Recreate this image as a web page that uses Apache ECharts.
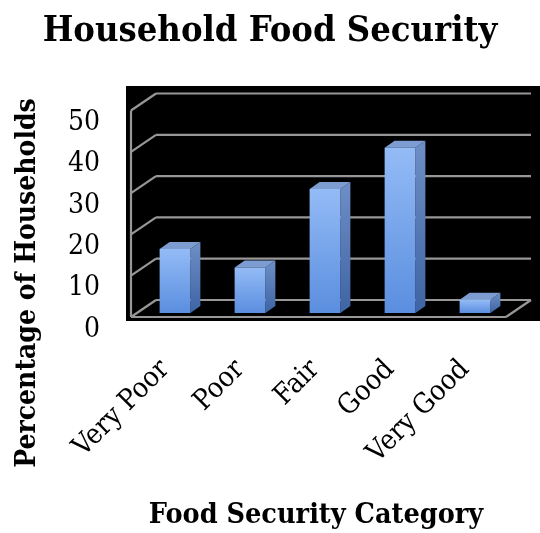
<!DOCTYPE html>
<html>
<head>
<meta charset="utf-8">
<style>
  html, body { margin: 0; padding: 0; background: #ffffff; }
  #chart { width: 540px; height: 533px; }
</style>
<script src="https://cdn.jsdelivr.net/npm/echarts@6/dist/echarts.min.js"></script>
</head>
<body>
<div id="chart"></div>
<script>
// Household food security survey results
const categories = ['Very Poor', 'Poor', 'Fair', 'Good', 'Very Good'];
const percentages = [15.5, 11, 30, 40, 3.2];
const yTicks = [0, 10, 20, 30, 40, 50];

const FONT = '"DejaVu Serif Condensed", "DejaVu Serif", serif';

// depth of the 3D box (front plane of the bars -> front/back of the floor)
const FRONT = [-6.5, 4];
const BACK = [18.5, -13];
const BAR_DEPTH = [10, -7];
const GRID_COLOR = '#979797';

const chart = echarts.init(document.getElementById('chart'), null, { renderer: 'canvas' });

function renderFrame(params, api) {
  const cs = params.coordSys;
  const v = api.value(0);
  const y = api.coord([0, v])[1];
  const left = cs.x, right = cs.x + cs.width;
  const children = [];
  const line = (x1, y1, x2, y2) => ({
    type: 'line',
    shape: { x1, y1, x2, y2 },
    style: { stroke: GRID_COLOR, lineWidth: 2.2 }
  });
  // back wall line
  children.push(line(left + BACK[0], y + BACK[1], right + BACK[0], y + BACK[1]));
  // side wall diagonal
  children.push(line(left + FRONT[0], y + FRONT[1], left + BACK[0], y + BACK[1]));
  if (params.dataIndex === 0) {
    const top = api.coord([0, yTicks[yTicks.length - 1]])[1];
    // front edge of the side wall
    children.push(line(left + FRONT[0], y + FRONT[1], left + FRONT[0], top + FRONT[1]));
    // floor front edge and right edge
    children.push(line(left + FRONT[0], y + FRONT[1], right + FRONT[0], y + FRONT[1]));
    children.push(line(right + FRONT[0], y + FRONT[1], right + BACK[0], y + BACK[1]));
  }
  return { type: 'group', children };
}

function renderBar(params, api) {
  const idx = api.value(0);
  const val = api.value(1);
  const top = api.coord([idx, val]);
  const base = api.coord([idx, 0]);
  const band = api.size([1, 0])[0];
  const w = band * 0.41;
  const x0 = top[0] - w / 2, x1 = top[0] + w / 2;
  const yt = top[1], yb = base[1];
  const dx = BAR_DEPTH[0], dy = BAR_DEPTH[1];
  return {
    type: 'group',
    children: [
      { // side face
        type: 'polygon',
        shape: { points: [[x1, yb], [x1 + dx, yb + dy], [x1 + dx, yt + dy], [x1, yt]] },
        style: {
          fill: new echarts.graphic.LinearGradient(0, 0, 0, 1, [
            { offset: 0, color: '#6e8fc6' },
            { offset: 1, color: '#3e64a5' }
          ])
        }
      },
      { // top face
        type: 'polygon',
        shape: { points: [[x0, yt], [x0 + dx, yt + dy], [x1 + dx, yt + dy], [x1, yt]] },
        style: { fill: '#7d9dd2' }
      },
      { // front face
        type: 'rect',
        shape: { x: x0, y: yt, width: w, height: yb - yt },
        style: {
          fill: new echarts.graphic.LinearGradient(0, 0, 0, 1, [
            { offset: 0, color: '#93bbf6' },
            { offset: 1, color: '#5b8edf' }
          ])
        }
      }
    ]
  };
}

const option = {
  animation: false,
  grid: [
    // plot plane of the bars
    { left: 137.5, width: 375, top: 106.5, bottom: 220 },
    // tick label column
    { left: 108, width: 10, top: 122.5, bottom: 203.5 },
    // dark backdrop
    { left: 126, right: 0, top: 86, bottom: 212, show: true, backgroundColor: '#000000', borderWidth: 0 }
  ],
  xAxis: [
    {
      gridIndex: 0, type: 'category', data: categories,
      axisLine: { show: false }, axisTick: { show: false },
      axisLabel: { rotate: 45, margin: 62, verticalAlign: 'bottom', fontFamily: FONT, fontSize: 28, color: '#000' }
    },
    { gridIndex: 1, type: 'value', show: false },
    { gridIndex: 2, type: 'value', show: false }
  ],
  yAxis: [
    { gridIndex: 0, type: 'value', min: 0, max: 50, interval: 10, show: false },
    {
      gridIndex: 1, type: 'value', min: 0, max: 50, interval: 10,
      axisLine: { show: false }, axisTick: { show: false }, splitLine: { show: false },
      axisLabel: { margin: 8, fontFamily: FONT, fontSize: 28, color: '#000' }
    },
    { gridIndex: 2, type: 'value', show: false }
  ],
  graphic: [
    {
      type: 'text', left: 'center', top: 14,
      style: { text: 'Household Food Security', font: 'bold 36px ' + FONT, fill: '#000' }
    },
    {
      type: 'text', x: 28, y: 283, rotation: Math.PI / 2,
      style: { text: 'Percentage of Households', font: 'bold 28px ' + FONT, fill: '#000', align: 'center', verticalAlign: 'middle' }
    },
    {
      type: 'text', x: 316, y: 516,
      style: { text: 'Food Security Category', font: 'bold 28.5px ' + FONT, fill: '#000', align: 'center', verticalAlign: 'middle' }
    }
  ],
  series: [
    {
      type: 'custom', xAxisIndex: 0, yAxisIndex: 0, z: 1,
      renderItem: renderFrame,
      data: yTicks.map(t => [t])
    },
    {
      type: 'custom', xAxisIndex: 0, yAxisIndex: 0, z: 2,
      renderItem: renderBar,
      data: percentages.map((p, i) => [i, p])
    }
  ]
};

chart.setOption(option);
</script>
</body>
</html>
